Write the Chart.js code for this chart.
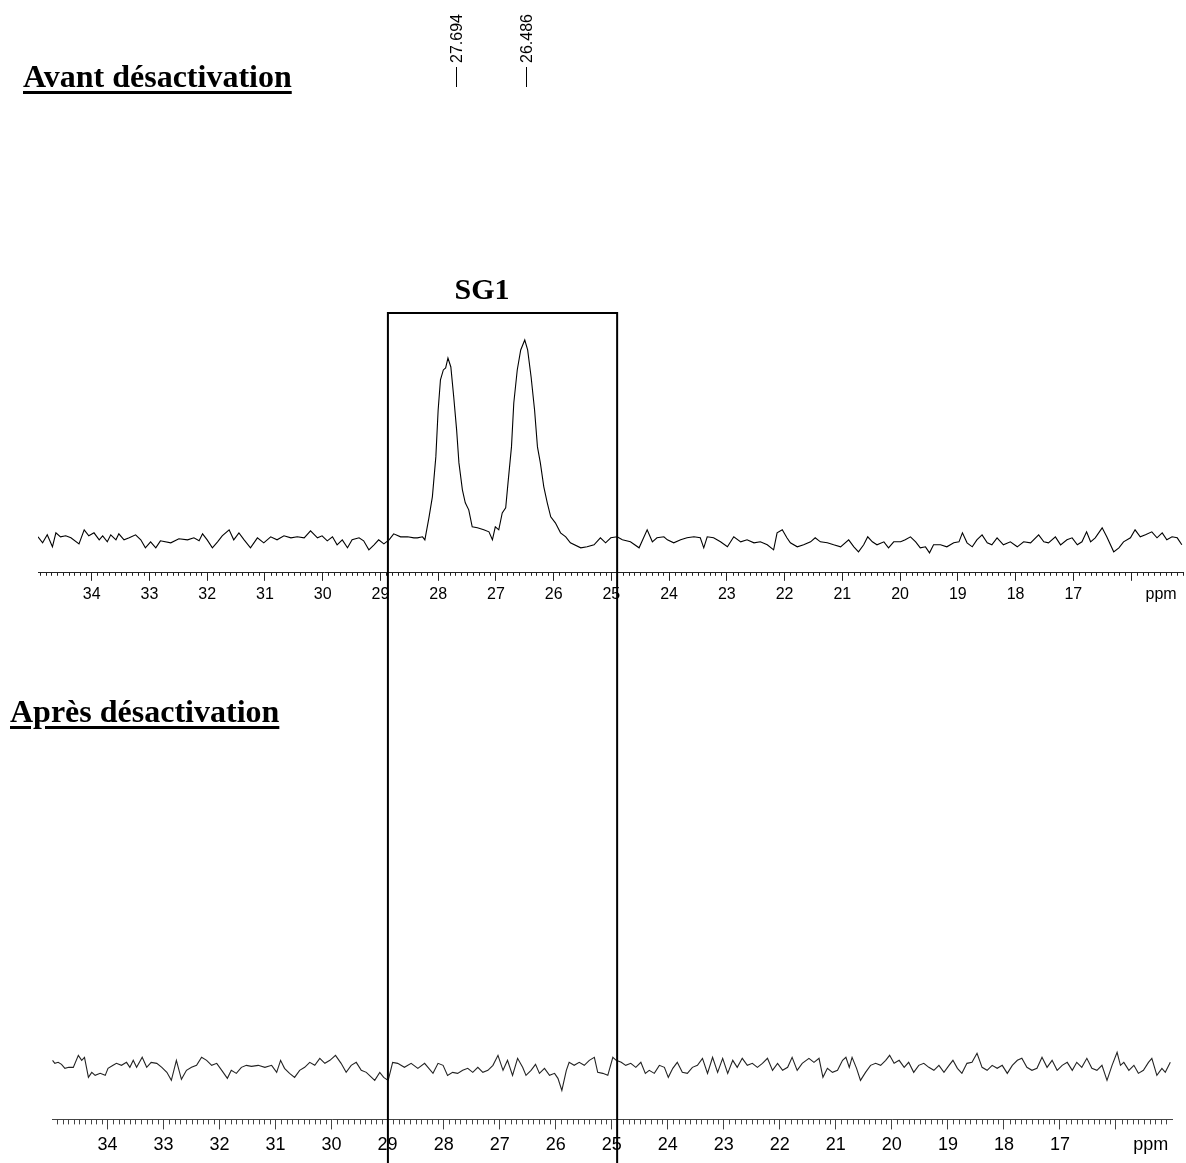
<!DOCTYPE html>
<html>
<head>
<meta charset="utf-8">
<script src="https://cdn.jsdelivr.net/npm/chart.js@4.4.0/dist/chart.umd.min.js"></script>
<style>
  body { margin: 0; background: #fff; }
  #page { position: relative; width: 1186px; height: 1163px; overflow: hidden; }
  canvas { position: absolute; left: 0; }
  #cTop { top: 0; }
  #cBot { top: 620px; }
  .title {
    position: absolute; white-space: nowrap; color: #000;
    font: bold 32px "Liberation Serif", "Times New Roman", serif; line-height: 32px;
    text-decoration: underline; text-decoration-thickness: 3px; text-underline-offset: 4px;
  }
  #sg1 {
    position: absolute; left: 382px; width: 200px; text-align: center; color: #000;
    font: bold 30px "Liberation Serif", "Times New Roman", serif; line-height: 30px;
  }
</style>
</head>
<body>
<div id="page">
  <canvas id="cTop" width="1186" height="620"></canvas>
  <canvas id="cBot" width="1186" height="543"></canvas>
  <div class="title" style="left:23px; top:60px;">Avant désactivation</div>
  <div class="title" style="left:10px; top:695px;">Après désactivation</div>
  <div id="sg1" style="top:274px;">SG1</div>
</div>
<script>
'use strict';

// spectrum before deactivation (ppm, intensity)
var topPpm = [34.93, 34.85, 34.77, 34.68, 34.62, 34.54, 34.45, 34.36, 34.22, 34.13, 34.05, 33.96, 33.87, 33.81, 33.73, 33.67,
  33.58, 33.53, 33.44, 33.35, 33.24, 33.15, 33.07, 32.98, 32.89, 32.81, 32.63, 32.49, 32.34, 32.23, 32.14, 32.08,
  32.00, 31.91, 31.82, 31.74, 31.62, 31.54, 31.45, 31.36, 31.25, 31.13, 31.02, 30.90, 30.79, 30.67, 30.55, 30.44,
  30.32, 30.21, 30.09, 30.01, 29.92, 29.83, 29.75, 29.66, 29.57, 29.49, 29.37, 29.29, 29.20, 29.11, 29.03, 28.94,
  28.85, 28.77, 28.65, 28.53, 28.42, 28.36, 28.27, 28.23, 28.16, 28.10, 28.04, 28.00, 27.96, 27.91, 27.87, 27.83,
  27.78, 27.73, 27.68, 27.64, 27.58, 27.53, 27.47, 27.41, 27.32, 27.21, 27.12, 27.06, 27.01, 26.95, 26.89, 26.83,
  26.79, 26.73, 26.69, 26.63, 26.57, 26.50, 26.45, 26.39, 26.33, 26.28, 26.23, 26.17, 26.11, 26.05, 25.97, 25.88,
  25.79, 25.71, 25.53, 25.42, 25.30, 25.19, 25.10, 25.01, 24.90, 24.81, 24.67, 24.52, 24.38, 24.29, 24.21, 24.09,
  24.03, 23.92, 23.80, 23.69, 23.57, 23.46, 23.40, 23.34, 23.23, 23.11, 22.99, 22.88, 22.76, 22.65, 22.53, 22.42,
  22.30, 22.19, 22.13, 22.04, 21.96, 21.90, 21.78, 21.67, 21.55, 21.47, 21.38, 21.26, 21.15, 21.03, 20.89, 20.80,
  20.72, 20.63, 20.56, 20.48, 20.40, 20.28, 20.20, 20.11, 19.99, 19.91, 19.82, 19.73, 19.65, 19.56, 19.49, 19.42,
  19.30, 19.19, 19.07, 18.98, 18.92, 18.84, 18.75, 18.67, 18.58, 18.49, 18.41, 18.32, 18.21, 18.09, 17.97, 17.86,
  17.74, 17.60, 17.51, 17.43, 17.31, 17.22, 17.11, 17.02, 16.93, 16.85, 16.77, 16.70, 16.62, 16.50, 16.42, 16.30,
  16.21, 16.13, 16.01, 15.93, 15.84, 15.75, 15.64, 15.55, 15.46, 15.38, 15.29, 15.20, 15.12];
var topIntensity = [3, -3, 5, -7, 7, 3, 4, 2, -4, 10, 4, 7, 0, 4, -2, 5,
  0, 6, 0, 2, 5, 0, -8, -2, -8, -1, -3, 1, 0, 2, -1, 6,
  0, -8, -2, 4, 10, 0, 7, 0, -8, 2, -3, 3, 0, 4, 2, 3,
  2, 9, 2, 4, -1, 3, -5, 0, -8, 0, 2, -1, -10, -5, 0, -4,
  0, 6, 3, 3, 2, 2, 3, 0, 22, 43, 83, 130, 160, 170, 172, 182,
  173, 143, 110, 77, 50, 37, 30, 13, 12, 10, 8, 0, 13, 10, 27, 32,
  57, 93, 137, 170, 190, 200, 190, 163, 130, 93, 77, 53, 37, 23, 17, 7,
  3, -3, -8, -7, -5, 2, -3, 2, 3, 0, -2, -8, 10, -2, 2, 3,
  0, -3, 0, 2, 3, 2, -8, 3, 2, -2, -7, 3, -2, 0, -3, -2,
  -5, -10, 7, 10, 2, -3, -7, -5, -2, 2, -2, -3, -5, -7, 0, -7,
  -12, -5, 3, -2, -5, -2, -8, -2, -2, 0, 3, -2, -8, -7, -13, -5,
  -5, -7, -3, -2, 7, -3, -7, 0, 5, -3, -5, 2, -5, -2, -7, -2,
  -3, 5, -2, -3, 3, -5, 0, 2, -5, -2, 8, -2, 2, 12, 3, -12,
  -8, -2, 2, 10, 3, 5, 8, 2, 7, 0, 3, 2, -5];

// spectrum after deactivation (ppm, intensity)
var botPpm = [34.98, 34.94, 34.88, 34.82, 34.76, 34.69, 34.61, 34.52, 34.46, 34.41, 34.34, 34.28, 34.22, 34.13, 34.04, 33.99,
  33.90, 33.84, 33.75, 33.66, 33.60, 33.54, 33.48, 33.38, 33.30, 33.22, 33.12, 33.03, 32.94, 32.86, 32.77, 32.68,
  32.59, 32.50, 32.41, 32.32, 32.23, 32.14, 32.05, 31.96, 31.86, 31.79, 31.70, 31.61, 31.52, 31.43, 31.31, 31.19,
  31.07, 30.98, 30.91, 30.84, 30.75, 30.66, 30.57, 30.48, 30.39, 30.30, 30.21, 30.12, 30.03, 29.93, 29.83, 29.74,
  29.65, 29.56, 29.47, 29.38, 29.23, 29.14, 29.07, 28.99, 28.91, 28.82, 28.70, 28.58, 28.46, 28.34, 28.19, 28.10,
  28.01, 27.93, 27.84, 27.75, 27.66, 27.57, 27.48, 27.39, 27.30, 27.21, 27.12, 27.03, 26.94, 26.86, 26.77, 26.68,
  26.59, 26.53, 26.44, 26.36, 26.29, 26.20, 26.11, 26.02, 25.96, 25.89, 25.81, 25.76, 25.67, 25.58, 25.49, 25.40,
  25.31, 25.25, 25.16, 25.07, 24.98, 24.92, 24.83, 24.75, 24.66, 24.57, 24.48, 24.40, 24.33, 24.24, 24.15, 24.06,
  23.99, 23.91, 23.83, 23.74, 23.65, 23.56, 23.47, 23.38, 23.29, 23.20, 23.11, 23.02, 22.93, 22.84, 22.76, 22.67,
  22.58, 22.49, 22.40, 22.31, 22.22, 22.13, 22.04, 21.95, 21.86, 21.78, 21.69, 21.60, 21.48, 21.39, 21.30, 21.23,
  21.15, 21.06, 20.97, 20.88, 20.82, 20.76, 20.71, 20.63, 20.56, 20.47, 20.38, 20.29, 20.20, 20.11, 20.04, 19.96,
  19.87, 19.78, 19.70, 19.61, 19.52, 19.43, 19.34, 19.25, 19.16, 19.07, 18.98, 18.91, 18.83, 18.75, 18.66, 18.57,
  18.48, 18.39, 18.30, 18.21, 18.12, 18.03, 17.94, 17.85, 17.76, 17.68, 17.59, 17.50, 17.41, 17.32, 17.23, 17.14,
  17.05, 16.96, 16.87, 16.78, 16.70, 16.61, 16.52, 16.43, 16.34, 16.25, 16.16, 16.07, 15.98, 15.92, 15.86, 15.77,
  15.68, 15.60, 15.51, 15.42, 15.36, 15.27, 15.18, 15.12, 15.03];
var botIntensity = [5, 2, 3, 1, -3, -2, -2, 10, 5, 8, -12, -7, -10, -8, -10, -3,
  0, 2, 0, 3, -2, 5, -2, 8, -2, 3, 2, -2, -7, -15, 5, -14,
  -5, -2, 0, 8, 5, 0, 2, -5, -13, -5, -8, -2, 0, -1, 0, -2,
  0, -7, 5, -3, -8, -12, -5, -2, 3, 0, 7, 2, 5, 10, 2, -7,
  0, 3, -5, -7, -15, -7, -12, -15, 3, 2, -2, 2, -3, 2, -8, 2,
  0, -10, -7, -8, -5, -3, -7, -2, -7, -5, 0, 10, -5, 5, -10, 7,
  -2, -10, -5, 1, -8, -3, -10, -8, -13, -25, -5, 3, 0, 3, 0, 5,
  8, -7, -8, -10, 8, 5, 3, 0, 2, -2, 3, -8, -5, -8, 0, -2,
  -12, -3, 3, -7, -8, -2, 0, 7, -8, 8, -7, 7, -8, 5, -2, 7,
  0, 2, -2, 2, 7, -5, 2, -5, -2, 8, -5, 2, 7, 3, 7, -12,
  -3, -7, -5, 5, 8, -2, 8, -3, -15, -7, 0, 2, 0, 5, 10, 2,
  5, -2, 3, -7, 0, 2, -2, -5, 0, -7, 0, 5, -3, -8, 2, 3,
  12, -2, -5, 0, -3, 0, -8, 0, 5, 7, -2, -5, -3, 8, -2, 5,
  -5, 0, 3, -5, 3, -2, 7, -3, -5, 0, -15, 0, 13, 0, 3, -5,
  0, -8, -5, 3, 7, -10, -3, -7, 3];

// axis labels and annotations
var axisTicks = [34, 33, 32, 31, 30, 29, 28, 27, 26, 25, 24, 23, 22, 21, 20, 19, 18, 17, 16];
var topRange = [15.1, 34.93];
var botRange = [15.0, 34.99];
var topUnitAt = 15.48;
var botUnitAt = 15.38;
var peakLabels = [27.694, 26.486];
var sg1Box = [28.87, 24.9];

function toPoints(xs, ys) {
  return xs.map(function(x, i) { return {x: x, y: ys[i]}; });
}

var minorTicks = {
  id: 'minorTicks',
  afterDraw: function(chart, args, opts) {
    var sx = chart.scales.x, ctx = chart.ctx;
    ctx.save();
    ctx.strokeStyle = opts.color;
    ctx.lineWidth = 1;
    ctx.beginPath();
    for (var k = Math.ceil(sx.min * 10); k <= Math.floor(sx.max * 10); k++) {
      if (k % 10 === 0) continue;
      var px = Math.round(sx.getPixelForValue(k / 10)) + 0.5;
      ctx.moveTo(px, sx.top);
      ctx.lineTo(px, sx.top + opts.length);
    }
    ctx.stroke();
    ctx.restore();
  }
};

function xAxis(range, unitAt, fontSize, tickLen, pad, color) {
  return {
    type: 'linear', reverse: true, min: range[0], max: range[1],
    afterBuildTicks: function(scale) {
      scale.ticks = axisTicks.map(function(v) { return {value: v}; }).concat([{value: unitAt}]);
    },
    ticks: {
      autoSkip: false, maxRotation: 0, padding: pad, color: '#000',
      font: {family: '"Liberation Sans", Arial, sans-serif', size: fontSize},
      callback: function(v) {
        if (v === unitAt) return 'ppm';
        if (v === 16) return '';
        return String(v);
      }
    },
    grid: {
      drawOnChartArea: false, tickLength: tickLen,
      tickColor: function(c) { return c.tick && c.tick.value === unitAt ? 'rgba(0,0,0,0)' : color; }
    },
    border: {color: color, width: 1}
  };
}

var topChart = new Chart(document.getElementById('cTop'), {
  type: 'line',
  data: {datasets: [{data: toPoints(topPpm, topIntensity), borderColor: '#000', borderWidth: 1.1, pointRadius: 0, tension: 0}]},
  options: {
    responsive: false, animation: false, devicePixelRatio: 1,
    layout: {padding: {left: 38, right: 3, top: 313, bottom: 12}},
    scales: {
      x: xAxis(topRange, topUnitAt, 16, 8, 4, '#222'),
      y: {display: false, min: -33, max: 227}
    },
    plugins: {legend: {display: false}, tooltip: {enabled: false}, minorTicks: {length: 3, color: '#222'}}
  },
  plugins: [minorTicks, {
    id: 'sg1AndPeaks',
    afterDraw: function(chart) {
      var sx = chart.scales.x, a = chart.chartArea, ctx = chart.ctx;
      var xl = sx.getPixelForValue(sg1Box[0]), xr = sx.getPixelForValue(sg1Box[1]);
      ctx.save();
      ctx.strokeStyle = '#000';
      ctx.lineWidth = 2;
      ctx.beginPath();
      ctx.moveTo(xl, chart.height);
      ctx.lineTo(xl, a.top);
      ctx.lineTo(xr, a.top);
      ctx.lineTo(xr, chart.height);
      ctx.stroke();
      // peak picking labels
      ctx.lineWidth = 1;
      ctx.strokeStyle = '#000';
      ctx.fillStyle = '#000';
      ctx.font = '16px "Liberation Sans", Arial, sans-serif';
      ctx.textBaseline = 'middle';
      peakLabels.forEach(function(p) {
        var px = Math.round(sx.getPixelForValue(p)) + 0.5;
        ctx.save();
        ctx.translate(px, 87);
        ctx.rotate(-Math.PI / 2);
        ctx.beginPath();
        ctx.moveTo(0, 0);
        ctx.lineTo(20, 0);
        ctx.stroke();
        ctx.fillText(p.toFixed(3), 24, 1);
        ctx.restore();
      });
      ctx.restore();
    }
  }]
});

new Chart(document.getElementById('cBot'), {
  type: 'line',
  data: {datasets: [{data: toPoints(botPpm, botIntensity), borderColor: '#222', borderWidth: 1.1, pointRadius: 0, tension: 0}]},
  options: {
    responsive: false, animation: false, devicePixelRatio: 1,
    layout: {padding: {left: 52, right: 14, top: 140, bottom: 2}},
    scales: {
      x: xAxis(botRange, botUnitAt, 18, 10, 5, '#444'),
      y: {display: false, min: -54, max: 305}
    },
    plugins: {legend: {display: false}, tooltip: {enabled: false}, minorTicks: {length: 5, color: '#444'}}
  },
  plugins: [minorTicks, {
    id: 'sg1Lines',
    afterDraw: function(chart) {
      var sx = topChart.scales.x, ctx = chart.ctx;
      ctx.save();
      ctx.strokeStyle = '#000';
      ctx.lineWidth = 2;
      ctx.beginPath();
      sg1Box.forEach(function(p) {
        var px = sx.getPixelForValue(p);
        ctx.moveTo(px, 0);
        ctx.lineTo(px, chart.height);
      });
      ctx.stroke();
      ctx.restore();
    }
  }]
});
</script>
</body>
</html>
